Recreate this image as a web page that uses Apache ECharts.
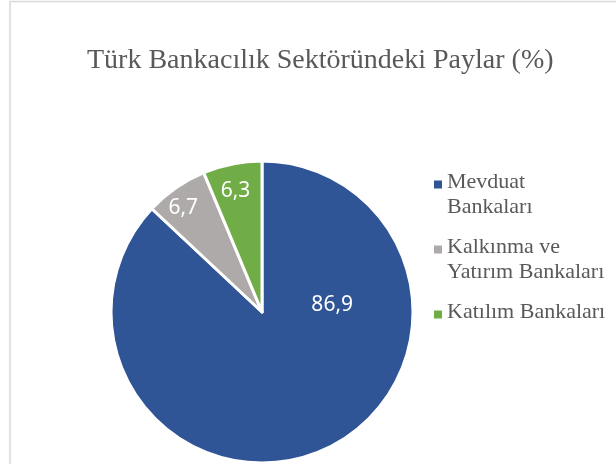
<!DOCTYPE html>
<html>
<head>
<meta charset="utf-8">
<script src="https://cdn.jsdelivr.net/npm/echarts@6/dist/echarts.min.js"></script>
<style>
html, body { margin: 0; padding: 0; background: #fff; }
#main { width: 616px; height: 464px; }
</style>
</head>
<body>
<div id="main"></div>
<script>
// data
var categories = ['Mevduat Bankaları', 'Kalkınma ve Yatırım Bankaları', 'Katılım Bankaları'];
var shares = [86.9, 6.7, 6.3];
var legendText = ['Mevduat\nBankaları', 'Kalkınma ve\nYatırım Bankaları', 'Katılım Bankaları\n'];
var colors = ['#2F5597', '#AEAAAA', '#70AD47'];

// label nudges from the default inside spot (Excel best-fit placement)
var labelNudge = [[39, -79], [-34, -40], [-11, -44]];

var pieData = categories.map(function (name, i) {
    return {name: name, value: shares[i], itemStyle: {color: colors[i]}};
});

// square sitting on the first text line of a two-line legend item
var legendIcon = 'path://M0,0L0,0M8,50L8,50M0,10.5H8V18.5H0Z';

var myChart = echarts.init(document.getElementById('main'));
var option = {
    animation: false,
    title: {
        text: 'Türk Bankacılık Sektöründeki Paylar (%)',
        left: 87,
        top: 47,
        padding: 0,
        textStyle: {
            fontFamily: 'Liberation Serif',
            fontSize: 28,
            fontWeight: 'normal',
            color: '#595959'
        }
    },
    legend: {
        orient: 'vertical',
        left: 434,
        top: 170,
        padding: 0,
        itemWidth: 8,
        itemHeight: 50,
        itemGap: 15,
        icon: legendIcon,
        itemStyle: {borderWidth: 0},
        formatter: function (name) {
            return legendText[categories.indexOf(name)];
        },
        textStyle: {
            fontFamily: 'Liberation Serif',
            fontSize: 22,
            lineHeight: 25,
            color: '#595959'
        },
        data: categories
    },
    graphic: [{
        type: 'rect',
        shape: {x: 10, y: 1.5, width: 700, height: 600},
        style: {fill: 'none', stroke: '#D9D9D9', lineWidth: 1.5},
        silent: true
    }],
    series: [{
        type: 'pie',
        center: [262, 312],
        radius: 151,
        startAngle: 90,
        clockwise: true,
        avoidLabelOverlap: false,
        itemStyle: {borderColor: '#fff', borderWidth: 3},
        label: {
            show: true,
            position: 'inside',
            color: '#fff',
            fontFamily: 'Noto Sans',
            fontSize: 21,
            formatter: function (p) {
                return String(p.value).replace('.', ',');
            }
        },
        labelLine: {show: false},
        labelLayout: function (params) {
            var n = labelNudge[params.dataIndex];
            return {dx: n[0], dy: n[1]};
        },
        emphasis: {disabled: true},
        data: pieData
    }]
};
myChart.setOption(option);
</script>
</body>
</html>
